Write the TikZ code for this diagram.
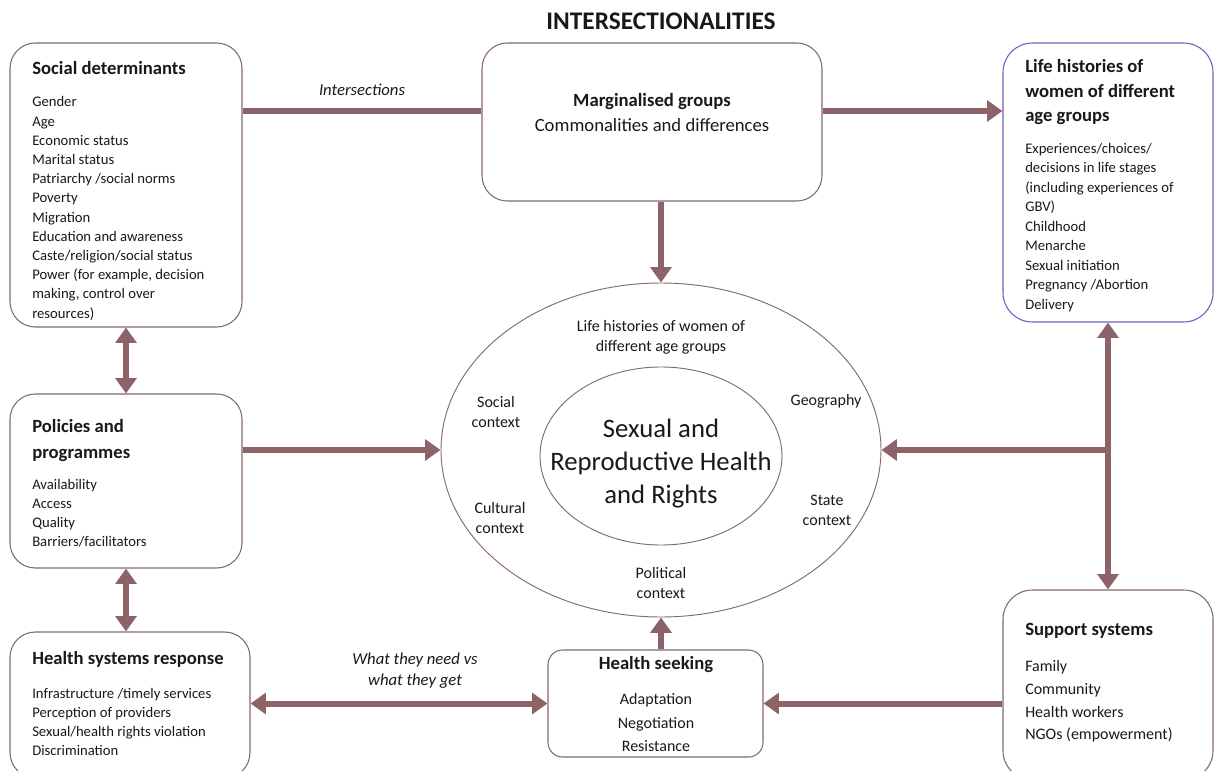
\documentclass[tikz,border=0pt]{standalone}
\usepackage{fontspec}
\setmainfont{Carlito}
\usetikzlibrary{arrows.meta,fit,shapes.geometric}
\definecolor{arr}{RGB}{140,99,104}
\definecolor{bx}{RGB}{135,105,108}
\definecolor{pu}{RGB}{112,96,190}
\definecolor{tx}{RGB}{25,25,25}
\begin{document}
\begin{tikzpicture}[x=0.75pt,y=-0.75pt,
 box/.style={draw=bx, line width=0.8pt, rounded corners=19pt, inner sep=0pt},
 conn/.style={draw=arr, line width=4.5pt, -{Triangle[length=11.5pt,width=15.5pt]}},
 dbl/.style={draw=arr, line width=4.5pt, {Triangle[length=11.5pt,width=15.5pt]}-{Triangle[length=11.5pt,width=15.5pt]}},
 plain/.style={draw=arr, line width=4.5pt},
 ttl/.style={font=\fontsize{14}{18.4}\selectfont\bfseries, inner sep=0pt, align=left, text=tx},
 body/.style={font=\fontsize{11}{14.4}\selectfont, inner sep=0pt, align=left, text=tx},
 elab/.style={font=\fontsize{12}{15}\selectfont, inner sep=0pt, align=center, text=tx},
 ital/.style={font=\fontsize{12.5}{15.75}\selectfont\itshape, inner sep=0pt, align=center, text=tx},
 ]
\useasboundingbox (0,0) rectangle (1215,771);
\fill[white] (0,0) rectangle (1215,771);

% boxes
\node[box, fit={(10,43) (242,327)}] (sd) {};
\node[box, fit={(482,43) (822,201)}] (mg) {};
\node[box, draw=pu, rounded corners=22pt, fit={(1003,43) (1213,322)}] (lh) {};
\node[box, fit={(10,394) (242,568)}] (pp) {};
\node[box, fit={(10,632) (250,778)}] (hsr) {};
\node[box, rounded corners=11pt, fit={(548,650) (763,757)}] (hs) {};
\node[box, rounded corners=22pt, fit={(1003,590) (1213,780)}] (ss) {};

% ellipses
\node[ellipse, draw=bx, line width=0.7pt, minimum width=330pt, minimum height=250.5pt, inner sep=0pt] (ell) at (661,450) {};
\node[ellipse, draw=bx, line width=0.7pt, minimum width=181.5pt, minimum height=133.5pt, inner sep=0pt] (inn) at (661,456) {};

% title
\node[font=\fontsize{19}{22}\selectfont\bfseries, text=tx, inner sep=0pt] (title) at (661,21) {INTERSECTIONALITIES};

% social determinants
\node[ttl, anchor=west] (sdt) at (32,68) {Social determinants};
\node[body, anchor=north west] (sdb) at (32,96.5) {Gender\\Age\\Economic status\\Marital status\\Patriarchy /social norms\\Poverty\\Migration\\Education and awareness\\Caste/religion/social status\\Power (for example, decision\\making, control over\\resources)};

% marginalised groups
\node[font=\fontsize{14}{17}\selectfont\bfseries, text=tx, inner sep=0pt] (mgt) at (652,102) {Marginalised groups};
\node[font=\fontsize{14}{17}\selectfont, text=tx, inner sep=0pt] (mgb) at (652,125) {Commonalities and differences};

% life histories
\node[ttl, anchor=north west] (lht) at (1025,59.5) {Life histories of\\women of different\\age groups};
\node[body, font=\fontsize{11}{14.6}\selectfont, anchor=north west] (lhb) at (1025,143) {Experiences/choices/\\decisions in life stages\\(including experiences of\\GBV)\\Childhood\\Menarche\\Sexual initiation\\Pregnancy /Abortion\\Delivery};

% policies
\node[ttl, font=\fontsize{14}{19.5}\selectfont\bfseries, anchor=north west] (ppt) at (32,419) {Policies and\\programmes};
\node[body, font=\fontsize{11}{14.25}\selectfont, anchor=north west] (ppb) at (32,479) {Availability\\Access\\Quality\\Barriers/facilitators};

% health systems response
\node[ttl, anchor=west] (hsrt) at (32,659) {Health systems response};
\node[body, font=\fontsize{11}{14.25}\selectfont, anchor=north west] (hsrb) at (32,688) {Infrastructure /timely services\\Perception of providers\\Sexual/health rights violation\\Discrimination};

% health seeking
\node[ttl] (hst) at (656,665) {Health seeking};
\node[font=\fontsize{12}{17.6}\selectfont, align=center, inner sep=0pt, text=tx, anchor=north] (hsb) at (656,693.5) {Adaptation\\Negotiation\\Resistance};

% support systems
\node[ttl, anchor=west] (sst) at (1025,631) {Support systems};
\node[font=\fontsize{12}{17}\selectfont, align=left, inner sep=0pt, text=tx, anchor=north west] (ssb) at (1025,660.5) {Family\\Community\\Health workers\\NGOs (empowerment)};

% ellipse labels
\node[elab] (l1) at (661,337) {Life histories of women of\\different age groups};
\node[elab] (l2) at (496,412) {Social\\context};
\node[elab] (l3) at (826,401) {Geography};
\node[elab] (l4) at (500,518) {Cultural\\context};
\node[elab] (l5) at (827,510) {State\\context};
\node[elab] (l6) at (661,583) {Political\\context};
\node[font=\fontsize{20}{24.75}\selectfont, align=center, inner sep=0pt, text=tx] (srhr) at (661,464) {Sexual and\\Reproductive Health\\and Rights};

% italic labels
\node[ital] (int) at (362,90) {Intersections};
\node[ital] (need) at (415,671) {What they need vs\\what they get};

% connectors
\coordinate (yl) at (0,111);
\draw[plain] (sd.east |- yl) -- (mg.west |- yl);
\draw[conn] (mg.east |- yl) -- (lh.west |- yl);
\draw[conn] (ell.north |- mg.south) -- (ell.north);
\draw[dbl] (sd.south) -- (pp.north);
\draw[conn] (pp.east |- ell.west) -- (ell.west);
\draw[dbl] (pp.south) -- (pp.south |- hsr.north);
\draw[dbl] (hsr.east |- hs.west) -- (hs.west);
\draw[conn] (ell.south |- hs.north) -- (ell.south);
\draw[conn] (ss.west |- hs.east) -- (hs.east);
\draw[dbl] (lh.south) -- (ss.north);
\draw[conn] (lh.south |- ell.east) -- (ell.east);
\end{tikzpicture}
\end{document}
